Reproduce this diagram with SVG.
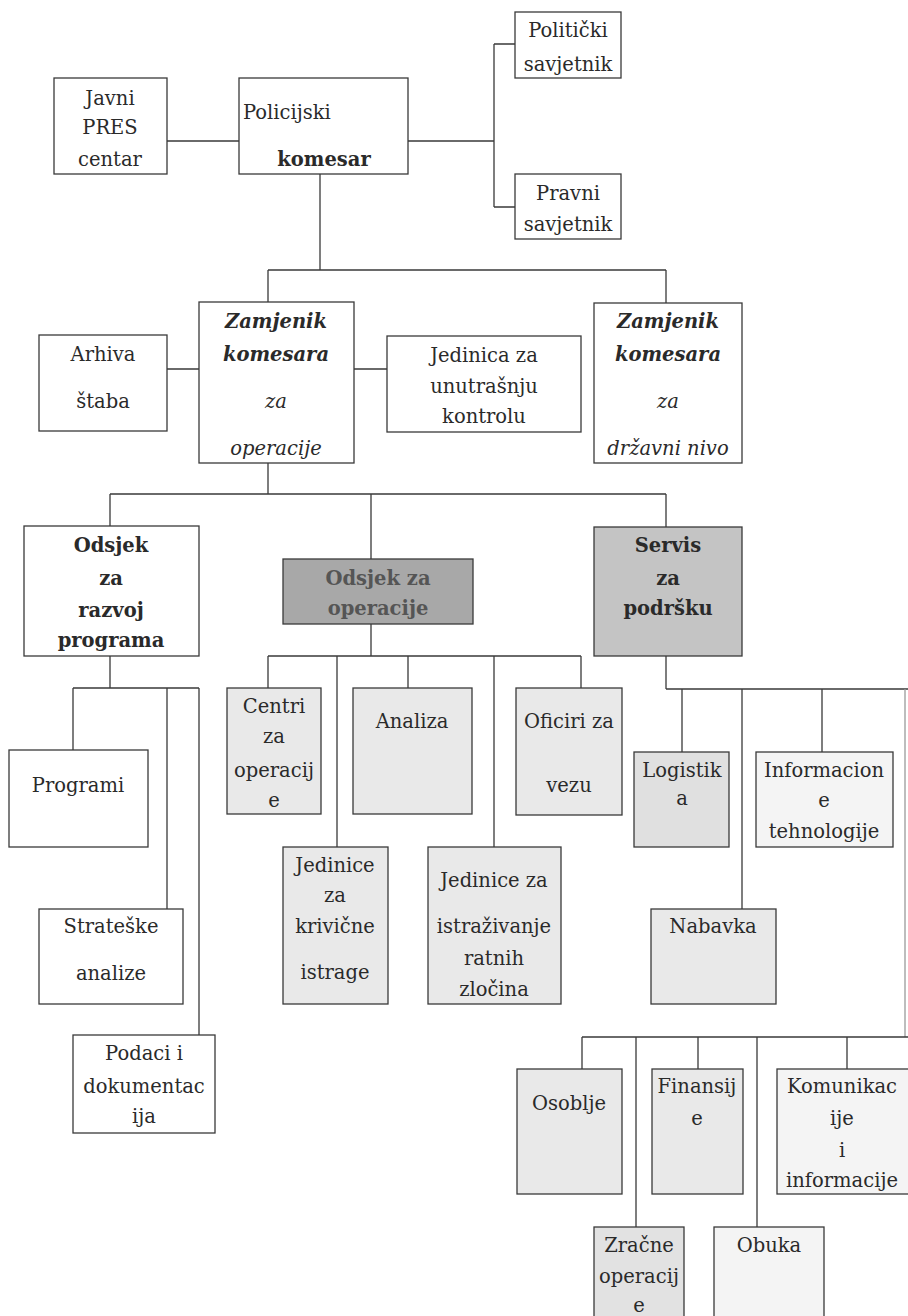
<svg xmlns="http://www.w3.org/2000/svg" width="908" height="1316" viewBox="0 0 908 1316">
<style>
rect{stroke:#3a3a3a;stroke-width:1.3;fill:#fff}
.c path{fill:none;stroke:#3a3a3a;stroke-width:1.3}
text{font-family:"DejaVu Serif","Liberation Serif",serif;font-size:19.5px;fill:#2a2a2a;text-anchor:middle}
.b{font-weight:bold}
.i{font-style:italic}
.l{text-anchor:start}
.g1{fill:#e9e9e9}
.g2{fill:#f4f4f4}
</style>
<g class="c" id="connectors">
<path d="M167 141H239M408 141H494M494 44V207M494 44H515M494 207H515"/>
<path d="M320 174V270M268 270H666M268 270V302M666 270V303"/>
<path d="M167 369H199M354 369H387"/>
<path d="M268 463V494M110 494H666M110 494V526M371 494V559M666 494V527"/>
<path d="M110 656V688M73 688H199M73 688V750M167 688V909M199 688V1035"/>
<path d="M371 624V656M268 656H581M268 656V688M337 656V847M408 656V688M494 656V847M581 656V688"/>
<path d="M666 656V689M666 689H908M682 689V752M742 689V909M822 689V752"/>
<path d="M905 689V1037" style="stroke:#9a9a9a"/>
<path d="M582 1037H908M582 1037V1069M636 1037V1227M698 1037V1069M757 1037V1227M847 1037V1069"/>
</g>
<g id="javni"><rect x="54" y="78" width="113" height="96"/><text x="110" y="105">Javni</text><text x="110" y="134">PRES</text><text x="110" y="166">centar</text></g>
<g id="policijski"><rect x="239" y="78" width="169" height="96"/><text class="l" x="243" y="119">Policijski</text><text class="b" x="324" y="166">komesar</text></g>
<g id="politicki"><rect x="515" y="12" width="106" height="66"/><text x="568" y="37">Politički</text><text x="568" y="71">savjetnik</text></g>
<g id="pravni"><rect x="515" y="174" width="106" height="65"/><text x="568" y="200">Pravni</text><text x="568" y="231">savjetnik</text></g>
<g id="zamjenik_ops"><rect x="199" y="302" width="155" height="161"/><text class="i b" x="276" y="328">Zamjenik</text><text class="i b" x="276" y="361">komesara</text><text class="i" x="276" y="408">za</text><text class="i" x="276" y="455">operacije</text></g>
<g id="arhiva"><rect x="39" y="335" width="128" height="96"/><text x="103" y="361">Arhiva</text><text x="103" y="408">štaba</text></g>
<g id="jedinica"><rect x="387" y="336" width="194" height="96"/><text x="484" y="362">Jedinica za</text><text x="484" y="393">unutrašnju</text><text x="484" y="423">kontrolu</text></g>
<g id="zamjenik_drz"><rect x="594" y="303" width="148" height="160"/><text class="i b" x="668" y="328">Zamjenik</text><text class="i b" x="668" y="361">komesara</text><text class="i" x="668" y="408">za</text><text class="i" x="668" y="455">državni nivo</text></g>
<g id="odsjek_razvoj"><rect x="24" y="526" width="175" height="130"/><text class="b" x="111" y="552">Odsjek</text><text class="b" x="111" y="585">za</text><text class="b" x="111" y="617">razvoj</text><text class="b" x="111" y="647">programa</text></g>
<g id="odsjek_ops"><rect x="283" y="559" width="190" height="65" style="fill:#a8a8a8"/><text class="b" x="378" y="585" style="fill:#555">Odsjek za</text><text class="b" x="378" y="615" style="fill:#555">operacije</text></g>
<g id="servis"><rect x="594" y="527" width="148" height="129" style="fill:#c4c4c4"/><text class="b" x="668" y="552">Servis</text><text class="b" x="668" y="585">za</text><text class="b" x="668" y="615">podršku</text></g>
<g id="programi"><rect x="9" y="750" width="139" height="97"/><text x="78" y="792">Programi</text></g>
<g id="strateske"><rect x="39" y="909" width="144" height="95"/><text x="111" y="933">Strateške</text><text x="111" y="980">analize</text></g>
<g id="podaci"><rect x="73" y="1035" width="142" height="98"/><text x="144" y="1060">Podaci i</text><text x="144" y="1093">dokumentac</text><text x="144" y="1123">ija</text></g>
<g id="centri"><rect class="g1" x="227" y="688" width="94" height="126"/><text x="274" y="713">Centri</text><text x="274" y="743">za</text><text x="274" y="777">operacij</text><text x="274" y="807">e</text></g>
<g id="analiza"><rect class="g1" x="353" y="688" width="119" height="126"/><text x="412" y="728">Analiza</text></g>
<g id="oficiri"><rect class="g1" x="516" y="688" width="106" height="127"/><text x="569" y="728">Oficiri za</text><text x="569" y="792">vezu</text></g>
<g id="jedinice_krivicne"><rect class="g1" x="283" y="847" width="105" height="157"/><text x="335" y="872">Jedinice</text><text x="335" y="902">za</text><text x="335" y="933">krivične</text><text x="335" y="979">istrage</text></g>
<g id="jedinice_istrazivanje"><rect class="g1" x="428" y="847" width="133" height="157"/><text x="494" y="887">Jedinice za</text><text x="494" y="933">istraživanje</text><text x="494" y="965">ratnih</text><text x="494" y="996">zločina</text></g>
<g id="logistika"><rect x="634" y="752" width="95" height="95" style="fill:#e0e0e0"/><text x="682" y="777">Logistik</text><text x="682" y="805">a</text></g>
<g id="informacione"><rect class="g2" x="756" y="752" width="137" height="95"/><text x="824" y="777">Informacion</text><text x="824" y="807">e</text><text x="824" y="838">tehnologije</text></g>
<g id="nabavka"><rect class="g1" x="651" y="909" width="125" height="95"/><text x="713" y="933">Nabavka</text></g>
<g id="osoblje"><rect class="g1" x="517" y="1069" width="105" height="125"/><text x="569" y="1110">Osoblje</text></g>
<g id="finansije"><rect class="g1" x="652" y="1069" width="91" height="125"/><text x="697" y="1093">Finansij</text><text x="697" y="1125">e</text></g>
<g id="komunikacije"><rect class="g2" x="777" y="1069" width="135" height="125"/><text x="842" y="1093">Komunikac</text><text x="842" y="1125">ije</text><text x="842" y="1157">i</text><text x="842" y="1187">informacije</text></g>
<g id="zracne"><rect x="594" y="1227" width="90" height="95" style="fill:#e2e2e2"/><text x="639" y="1252">Zračne</text><text x="639" y="1283">operacij</text><text x="639" y="1312">e</text></g>
<g id="obuka"><rect class="g2" x="714" y="1227" width="110" height="95"/><text x="769" y="1252">Obuka</text></g>
</svg>
